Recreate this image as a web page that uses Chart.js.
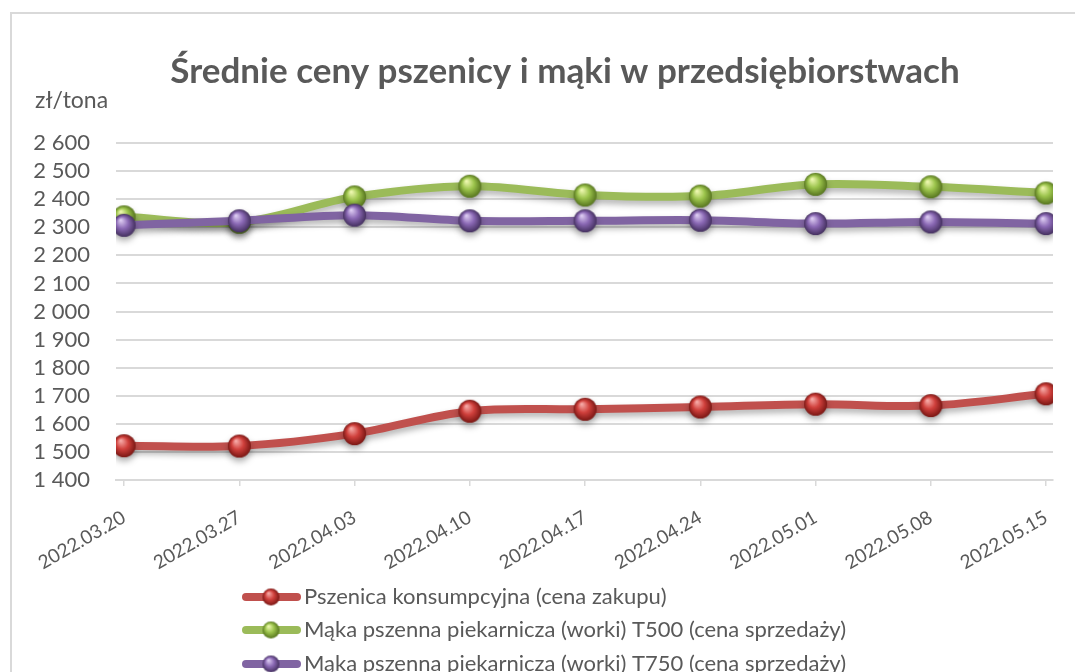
<!DOCTYPE html>
<html lang="pl">
<head>
<meta charset="utf-8">
<title>Średnie ceny pszenicy i mąki w przedsiębiorstwach</title>
<script src="https://cdn.jsdelivr.net/npm/chart.js@4.4.0/dist/chart.umd.min.js"></script>
<style>
  html, body { margin: 0; padding: 0; background: #fff; }
  #wrap { position: relative; width: 1075px; height: 672px; }
</style>
</head>
<body>
<div id="wrap"><canvas id="chart"></canvas></div>
<script>
// dane z wykresu
const weeks = ['2022.03.20', '2022.03.27', '2022.04.03', '2022.04.10', '2022.04.17',
               '2022.04.24', '2022.05.01', '2022.05.08', '2022.05.15'];
const wheat     = [1522, 1521, 1565, 1645, 1652, 1660, 1670, 1665, 1707];
const flourT500 = [2337, 2318, 2408, 2446, 2415, 2411, 2453, 2444, 2422];
const flourT750 = [2307, 2323, 2343, 2323, 2323, 2325, 2313, 2319, 2313];
const seriesNames = [
  'Pszenica konsumpcyjna (cena zakupu)',
  'Mąka pszenna piekarnicza (worki) T500 (cena sprzedaży)',
  'Mąka pszenna piekarnicza (worki) T750 (cena sprzedaży)'
];
const chartTitle = 'Średnie ceny pszenicy i mąki w przedsiębiorstwach';
const unitLabel = 'zł/tona';
const yMin = 1400, yMax = 2600, yStep = 100;

const FONT = 'Lato, "Open Sans", sans-serif';
const TEXT = '#595959';
const GRID = '#D9D9D9';

// kulki jak w Excelu
function sphere(base, light, dark, r) {
  const c = document.createElement('canvas');
  const s = Math.ceil(r * 2 + 2);
  c.width = s; c.height = s;
  const g = c.getContext('2d');
  const cx = s / 2, cy = s / 2;
  const grad = g.createRadialGradient(cx - r * 0.3, cy - r * 0.45, r * 0.05, cx, cy, r);
  grad.addColorStop(0, light);
  grad.addColorStop(0.5, base);
  grad.addColorStop(1, dark);
  g.fillStyle = grad;
  g.beginPath(); g.arc(cx, cy, r, 0, Math.PI * 2); g.fill();
  return c;
}

const colors = [
  { line: '#C0504D', light: '#f6a9a6', base: '#d0403c', dark: '#7a1714' },
  { line: '#9BBB59', light: '#eef8b0', base: '#9cc44c', dark: '#57751f' },
  { line: '#8064A2', light: '#dccbf2', base: '#8a68b4', dark: '#44305f' }
];
const balls = colors.map(c => sphere(c.base, c.light, c.dark, 11.5));
const legendBalls = colors.map(c => sphere(c.base, c.light, c.dark, 8.5));

const fmt = v => String(v).replace(/\B(?=(\d{3})+(?!\d))/g, ' ');
const toPoints = arr => arr.map((v, i) => ({ x: i, y: v }));

const frame = {
  id: 'frame',
  beforeDraw(chart) {
    const ctx = chart.ctx;
    ctx.save();
    ctx.fillStyle = '#fff';
    ctx.fillRect(0, 0, chart.width, chart.height);
    ctx.strokeStyle = GRID;
    ctx.lineWidth = 2;
    ctx.beginPath();
    ctx.moveTo(11, chart.height);
    ctx.lineTo(11, 13);
    ctx.lineTo(chart.width, 13);
    ctx.stroke();
    ctx.restore();
  },
  afterDraw(chart) {
    const ctx = chart.ctx;
    ctx.save();
    // tytuł
    ctx.fillStyle = TEXT;
    ctx.font = 'bold 35px ' + FONT;
    ctx.textAlign = 'center';
    ctx.textBaseline = 'middle';
    ctx.fillText(chartTitle, 565, 72);
    // jednostka osi Y
    ctx.font = '23px ' + FONT;
    ctx.textAlign = 'left';
    ctx.fillText(unitLabel, 35, 101);
    // legenda
    const rows = [597, 630, 664];
    chart.data.datasets.forEach((ds, i) => {
      const y = rows[i];
      ctx.strokeStyle = ds.borderColor;
      ctx.lineWidth = 8;
      ctx.lineCap = 'round';
      ctx.beginPath();
      ctx.moveTo(246, y); ctx.lineTo(297, y);
      ctx.stroke();
      const b = legendBalls[i];
      ctx.drawImage(b, 271 - b.width / 2, y - b.height / 2);
      ctx.fillStyle = TEXT;
      ctx.font = '22px ' + FONT;
      ctx.fillText(ds.label, 304, y);
    });
    ctx.restore();
  }
};

const shadow = {
  id: 'shadow',
  beforeDatasetDraw(chart) {
    const ctx = chart.ctx;
    ctx.save();
    ctx.shadowColor = 'rgba(0,0,0,0.3)';
    ctx.shadowBlur = 6;
    ctx.shadowOffsetY = 4;
  },
  afterDatasetDraw(chart) {
    chart.ctx.restore();
  }
};

new Chart(document.getElementById('chart'), {
  type: 'line',
  data: {
    datasets: [wheat, flourT500, flourT750].map((arr, i) => ({
      label: seriesNames[i],
      data: toPoints(arr),
      borderColor: colors[i].line,
      backgroundColor: colors[i].line,
      borderWidth: 8,
      tension: 0.35,
      pointStyle: balls[i],
      pointRadius: 11,
      order: 2 - i
    }))
  },
  options: {
    responsive: true,
    maintainAspectRatio: false,
    animation: false,
    events: [],
    layout: { padding: { left: 0, right: 22, top: 143, bottom: 92 } },
    plugins: {
      legend: { display: false },
      tooltip: { enabled: false },
      title: { display: false }
    },
    scales: {
      x: {
        type: 'linear',
        min: -0.07,
        max: 8.06,
        afterFit: s => { s.height = 100; s.paddingLeft = 0; s.paddingRight = 0; },
        ticks: {
          stepSize: 1,
          includeBounds: false,
          autoSkip: false,
          minRotation: 30,
          maxRotation: 30,
          padding: 20,
          color: TEXT,
          font: { family: FONT, size: 19 },
          callback: v => weeks[v] ?? ''
        },
        grid: { drawOnChartArea: false, drawTicks: true, tickLength: 6, color: GRID, lineWidth: 1.5 },
        border: { display: true, color: GRID, width: 2 }
      },
      y: {
        min: yMin,
        max: yMax,
        afterFit: s => { s.width = 116; s.paddingTop = 0; s.paddingBottom = 0; },
        ticks: {
          stepSize: yStep,
          autoSkip: false,
          padding: 26,
          color: TEXT,
          font: { family: FONT, size: 22 },
          callback: v => fmt(v)
        },
        grid: { color: GRID, lineWidth: 2, drawTicks: false },
        border: { display: false }
      }
    }
  },
  plugins: [frame, shadow]
});
</script>
</body>
</html>
